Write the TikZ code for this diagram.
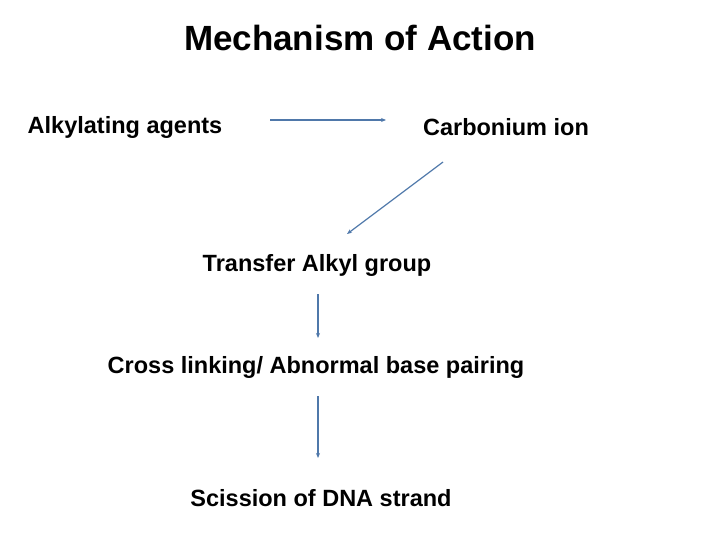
\documentclass[tikz,border=0pt]{standalone}
\usepackage{fontspec}
\setmainfont{Liberation Sans}
\usetikzlibrary{arrows.meta}
\definecolor{arr}{RGB}{79,120,170}
\begin{document}
\begin{tikzpicture}[x=1pt,y=-1pt,
  lbl/.style={font=\bfseries\fontsize{23.5}{28}\selectfont,inner sep=0pt},
  con/.style={draw=arr,line width=1.2pt,-{Stealth[length=5pt,width=4pt]}}]
\useasboundingbox (0,0) rectangle (720,540);
\node[inner sep=0pt,font=\bfseries\fontsize{35}{40}\selectfont] (t) at (360,38) {Mechanism of Action};
\node[lbl] (a) at (125,127) {Alkylating agents};
\node[lbl] (b) at (506,127) {Carbonium ion};
\node[lbl] (c) at (317,265) {Transfer Alkyl group};
\node[lbl] (d) at (316,367) {Cross linking/ Abnormal base pairing};
\node[lbl] (e) at (321,498) {Scission of DNA strand};
\coordinate (a1) at (270,120); \coordinate (a2) at (386,120);
\coordinate (b1) at (443,162); \coordinate (b2) at (347,234);
\coordinate (c1) at (318,294); \coordinate (c2) at (318,338);
\coordinate (d1) at (318,396); \coordinate (d2) at (318,458);
\draw[con] (a1) -- (a2);
\draw[con] (b1) -- (b2);
\draw[con] (c1) -- (c2);
\draw[con] (d1) -- (d2);
\end{tikzpicture}
\end{document}
